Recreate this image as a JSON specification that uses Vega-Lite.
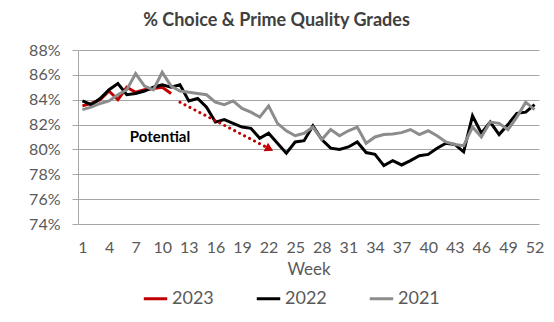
{
  "$schema": "https://vega.github.io/schema/vega-lite/v6.json",
  "autosize": "none",
  "width": 461,
  "height": 174,
  "padding": {"left": 78, "top": 50, "right": 15, "bottom": 98},
  "background": "white",
  "title": {
    "text": "% Choice & Prime Quality Grades",
    "font": "Lato",
    "fontSize": 18,
    "fontWeight": "bold",
    "color": "#404040",
    "anchor": "middle",
    "dx": -32,
    "offset": 12
  },
  "config": {
    "view": {"stroke": null},
    "font": "Lato",
    "axis": {"labelOverlap": false, "labelFlush": false}
  },
  "datasets": {
    "grades": [
      {"week": 1, "year": "2023", "pct": 83.5},
      {"week": 2, "year": "2023", "pct": 83.7},
      {"week": 3, "year": "2023", "pct": 84.0},
      {"week": 4, "year": "2023", "pct": 84.7},
      {"week": 5, "year": "2023", "pct": 84.0},
      {"week": 6, "year": "2023", "pct": 85.0},
      {"week": 7, "year": "2023", "pct": 84.6},
      {"week": 8, "year": "2023", "pct": 84.8},
      {"week": 9, "year": "2023", "pct": 84.9},
      {"week": 10, "year": "2023", "pct": 85.0},
      {"week": 11, "year": "2023", "pct": 84.5},

      {"week": 1, "year": "2022", "pct": 83.9},
      {"week": 2, "year": "2022", "pct": 83.6},
      {"week": 3, "year": "2022", "pct": 84.1},
      {"week": 4, "year": "2022", "pct": 84.8},
      {"week": 5, "year": "2022", "pct": 85.3},
      {"week": 6, "year": "2022", "pct": 84.4},
      {"week": 7, "year": "2022", "pct": 84.5},
      {"week": 8, "year": "2022", "pct": 84.7},
      {"week": 9, "year": "2022", "pct": 85.0},
      {"week": 10, "year": "2022", "pct": 85.2},
      {"week": 11, "year": "2022", "pct": 85.0},
      {"week": 12, "year": "2022", "pct": 85.2},
      {"week": 13, "year": "2022", "pct": 83.9},
      {"week": 14, "year": "2022", "pct": 84.1},
      {"week": 15, "year": "2022", "pct": 83.4},
      {"week": 16, "year": "2022", "pct": 82.2},
      {"week": 17, "year": "2022", "pct": 82.4},
      {"week": 18, "year": "2022", "pct": 82.1},
      {"week": 19, "year": "2022", "pct": 81.8},
      {"week": 20, "year": "2022", "pct": 81.7},
      {"week": 21, "year": "2022", "pct": 80.9},
      {"week": 22, "year": "2022", "pct": 81.3},
      {"week": 23, "year": "2022", "pct": 80.5},
      {"week": 24, "year": "2022", "pct": 79.7},
      {"week": 25, "year": "2022", "pct": 80.6},
      {"week": 26, "year": "2022", "pct": 80.7},
      {"week": 27, "year": "2022", "pct": 81.9},
      {"week": 28, "year": "2022", "pct": 80.8},
      {"week": 29, "year": "2022", "pct": 80.1},
      {"week": 30, "year": "2022", "pct": 80.0},
      {"week": 31, "year": "2022", "pct": 80.2},
      {"week": 32, "year": "2022", "pct": 80.6},
      {"week": 33, "year": "2022", "pct": 79.75},
      {"week": 34, "year": "2022", "pct": 79.6},
      {"week": 35, "year": "2022", "pct": 78.7},
      {"week": 36, "year": "2022", "pct": 79.1},
      {"week": 37, "year": "2022", "pct": 78.75},
      {"week": 38, "year": "2022", "pct": 79.1},
      {"week": 39, "year": "2022", "pct": 79.5},
      {"week": 40, "year": "2022", "pct": 79.6},
      {"week": 41, "year": "2022", "pct": 80.1},
      {"week": 42, "year": "2022", "pct": 80.5},
      {"week": 43, "year": "2022", "pct": 80.4},
      {"week": 44, "year": "2022", "pct": 79.8},
      {"week": 45, "year": "2022", "pct": 82.7},
      {"week": 46, "year": "2022", "pct": 81.3},
      {"week": 47, "year": "2022", "pct": 82.2},
      {"week": 48, "year": "2022", "pct": 81.2},
      {"week": 49, "year": "2022", "pct": 82.0},
      {"week": 50, "year": "2022", "pct": 82.9},
      {"week": 51, "year": "2022", "pct": 83.0},
      {"week": 52, "year": "2022", "pct": 83.6},

      {"week": 1, "year": "2021", "pct": 83.2},
      {"week": 2, "year": "2021", "pct": 83.4},
      {"week": 3, "year": "2021", "pct": 83.7},
      {"week": 4, "year": "2021", "pct": 83.9},
      {"week": 5, "year": "2021", "pct": 84.4},
      {"week": 6, "year": "2021", "pct": 84.8},
      {"week": 7, "year": "2021", "pct": 86.1},
      {"week": 8, "year": "2021", "pct": 85.1},
      {"week": 9, "year": "2021", "pct": 84.8},
      {"week": 10, "year": "2021", "pct": 86.2},
      {"week": 11, "year": "2021", "pct": 85.1},
      {"week": 12, "year": "2021", "pct": 84.7},
      {"week": 13, "year": "2021", "pct": 84.6},
      {"week": 14, "year": "2021", "pct": 84.5},
      {"week": 15, "year": "2021", "pct": 84.4},
      {"week": 16, "year": "2021", "pct": 83.8},
      {"week": 17, "year": "2021", "pct": 83.6},
      {"week": 18, "year": "2021", "pct": 83.9},
      {"week": 19, "year": "2021", "pct": 83.3},
      {"week": 20, "year": "2021", "pct": 83.0},
      {"week": 21, "year": "2021", "pct": 82.6},
      {"week": 22, "year": "2021", "pct": 83.5},
      {"week": 23, "year": "2021", "pct": 82.1},
      {"week": 24, "year": "2021", "pct": 81.5},
      {"week": 25, "year": "2021", "pct": 81.1},
      {"week": 26, "year": "2021", "pct": 81.3},
      {"week": 27, "year": "2021", "pct": 81.8},
      {"week": 28, "year": "2021", "pct": 80.8},
      {"week": 29, "year": "2021", "pct": 81.6},
      {"week": 30, "year": "2021", "pct": 81.1},
      {"week": 31, "year": "2021", "pct": 81.5},
      {"week": 32, "year": "2021", "pct": 81.8},
      {"week": 33, "year": "2021", "pct": 80.5},
      {"week": 34, "year": "2021", "pct": 81.0},
      {"week": 35, "year": "2021", "pct": 81.2},
      {"week": 36, "year": "2021", "pct": 81.25},
      {"week": 37, "year": "2021", "pct": 81.35},
      {"week": 38, "year": "2021", "pct": 81.6},
      {"week": 39, "year": "2021", "pct": 81.2},
      {"week": 40, "year": "2021", "pct": 81.5},
      {"week": 41, "year": "2021", "pct": 81.1},
      {"week": 42, "year": "2021", "pct": 80.6},
      {"week": 43, "year": "2021", "pct": 80.4},
      {"week": 44, "year": "2021", "pct": 80.3},
      {"week": 45, "year": "2021", "pct": 81.8},
      {"week": 46, "year": "2021", "pct": 81.0},
      {"week": 47, "year": "2021", "pct": 82.2},
      {"week": 48, "year": "2021", "pct": 82.1},
      {"week": 49, "year": "2021", "pct": 81.6},
      {"week": 50, "year": "2021", "pct": 82.6},
      {"week": 51, "year": "2021", "pct": 83.8},
      {"week": 52, "year": "2021", "pct": 83.2}
    ],
    "potential": [
      {"week": 12, "pct": 83.8},
      {"week": 22.1, "pct": 80.05}
    ],
    "arrow": [
      {"week": 22.1, "pct": 80.05}
    ],
    "label": [
      {"week": 9.75, "pct": 81.0, "text": "Potential"}
    ]
  },
  "encoding": {
    "x": {
      "field": "week", "type": "quantitative",
      "scale": {"domain": [0.5, 52.5], "nice": false, "zero": false},
      "axis": {
        "values": [1, 4, 7, 10, 13, 16, 19, 22, 25, 28, 31, 34, 37, 40, 43, 46, 49, 52],
        "title": "Week",
        "grid": false, "ticks": false, "domain": false,
        "labelOverlap": false, "labelFlush": false,
        "labelFont": "Lato", "labelFontSize": 16, "labelColor": "#595959",
        "labelPadding": 15,
        "titleFont": "Lato", "titleFontSize": 17, "titleFontWeight": "normal",
        "titleColor": "#595959", "titlePadding": 6
      }
    },
    "y": {
      "field": "pct", "type": "quantitative",
      "scale": {"domain": [74, 88], "nice": false, "zero": false},
      "axis": {
        "values": [74, 76, 78, 80, 82, 84, 86, 88],
        "labelExpr": "datum.value + '%'",
        "labelOverlap": false, "labelFlush": false,
        "title": null,
        "grid": true, "gridColor": "#a6a6a6", "gridWidth": 1,
        "domain": true, "domainColor": "#a6a6a6",
        "ticks": true, "tickColor": "#a6a6a6", "tickSize": 6,
        "labelFont": "Lato", "labelFontSize": 16, "labelColor": "#595959",
        "labelPadding": 12
      }
    }
  },
  "layer": [
    {
      "data": {"name": "grades"},
      "transform": [{"filter": "datum.year === '2023'"}],
      "mark": {"type": "line", "strokeWidth": 3, "strokeJoin": "miter"},
      "encoding": {
        "color": {
          "field": "year", "type": "nominal",
          "scale": {"domain": ["2023", "2022", "2021"], "range": ["#c00000", "#000000", "#8c8c8c"]},
          "legend": {
            "title": null,
            "orient": "none",
            "direction": "horizontal",
            "legendX": 64,
            "legendY": 235,
            "symbolType": "stroke",
            "symbolStrokeWidth": 3,
            "symbolSize": 550,
            "labelFont": "Lato",
            "labelFontSize": 18,
            "labelColor": "#595959",
            "labelOffset": 3,
            "columnPadding": 36
          }
        }
      }
    },
    {
      "data": {"name": "grades"},
      "transform": [{"filter": "datum.year === '2022'"}],
      "mark": {"type": "line", "strokeWidth": 3, "strokeJoin": "miter"},
      "encoding": {
        "color": {"field": "year", "type": "nominal"}
      }
    },
    {
      "data": {"name": "grades"},
      "transform": [{"filter": "datum.year === '2021'"}],
      "mark": {"type": "line", "strokeWidth": 3, "strokeJoin": "miter"},
      "encoding": {
        "color": {"field": "year", "type": "nominal"}
      }
    },
    {
      "data": {"name": "potential"},
      "mark": {"type": "line", "color": "#c00000", "strokeWidth": 3, "strokeDash": [0.1, 5.5], "strokeCap": "round"},
      "encoding": {}
    },
    {
      "data": {"name": "arrow"},
      "mark": {"type": "point", "shape": "triangle-right", "filled": true, "color": "#c00000", "opacity": 1, "size": 90, "angle": 27}
    },
    {
      "data": {"name": "label"},
      "mark": {"type": "text", "font": "Lato", "fontSize": 15, "fontWeight": "bold", "color": "#000000", "align": "center", "baseline": "middle"},
      "encoding": {
        "text": {"field": "text"}
      }
    }
  ]
}
